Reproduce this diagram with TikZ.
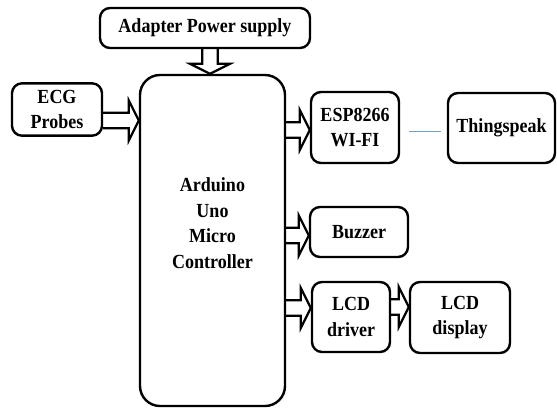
\documentclass[tikz,border=0pt]{standalone}
\usepackage{fontspec}
\setmainfont{Liberation Serif}[FakeStretch=0.9]
\usetikzlibrary{calc}
\definecolor{linkblue}{RGB}{115,160,200}
\tikzset{
  block/.style={draw, line width=1.2pt, rounded corners=5pt, align=center,
    font=\fontsize{10}{12.8}\selectfont\bfseries},
  pipe/.style={line width=1.1pt, line join=miter, to path={
    ($(\tikztotarget)!5pt!(\tikztostart)$) coordinate (pb)
    ($(\tikztostart)!3.9pt!90:(\tikztotarget)$) -- ($(pb)!3.9pt!90:(\tikztotarget)$)
    -- ($(pb)!10pt!90:(\tikztotarget)$) -- (\tikztotarget)
    -- ($(pb)!10pt!-90:(\tikztotarget)$) -- ($(pb)!3.9pt!-90:(\tikztotarget)$)
    -- ($(\tikztostart)!3.9pt!-90:(\tikztotarget)$)}},
  link/.style={draw=linkblue, line width=0.7pt},
}
\begin{document}
\begin{tikzpicture}[x=0.5pt, y=-0.5pt]
\useasboundingbox (0,0) rectangle (557,408);
% blocks
\node[block, minimum width=105pt, minimum height=20pt] (power) at (205,28) {Adapter Power supply};
\node[block, rounded corners=10pt, minimum width=72.5pt, minimum height=165.5pt] (ctrl) at (212.5,240.5) {};
\node[align=center, font=\fontsize{10}{12.8}\selectfont\bfseries] (ctrltext) at (212.5,223) {Arduino\\Uno\\Micro\\Controller};
\node[block, minimum width=45pt, minimum height=21.5pt] (ecg) at (57,109.5) {ECG\\Probes};
\node[block, minimum width=44pt, minimum height=35.5pt] (esp) at (355,127.5) {ESP8266\\WI-FI};
\node[block, minimum width=53.5pt, minimum height=35pt] (thing) at (501.5,128) {Thingspeak};
\node[block, minimum width=49pt, minimum height=25pt] (buzzer) at (359,232) {Buzzer};
\node[block, minimum width=39pt, minimum height=35pt] (lcdd) at (351,317) {LCD\\driver};
\node[block, minimum width=50pt, minimum height=35.5pt] (lcdp) at (460,317.5) {LCD\\display};
% arrows
\draw[pipe] ([xshift=2.5pt]power.south) to ([xshift=2.5pt]power.south |- ctrl.north);
\draw[pipe] ([yshift=-5.5pt]ecg.east) to ([yshift=-5.5pt]ecg.east -| ctrl.west);
\draw[pipe] ([yshift=-1.25pt]esp.west -| ctrl.east) to ([yshift=-1.25pt]esp.west);
\draw[pipe] ([yshift=-1.75pt]buzzer.west -| ctrl.east) to ([yshift=-1.75pt]buzzer.west);
\draw[pipe] ([yshift=4.5pt]lcdd.west -| ctrl.east) to ([yshift=4.5pt]lcdd.west);
\draw[pipe] ([yshift=5pt]lcdd.east) to ([yshift=5pt]lcdd.east -| lcdp.west);
\draw[link, shorten <=4.5pt, shorten >=3pt] ([yshift=-2pt]esp.east) -- ([yshift=-2pt]esp.east -| thing.west);
\end{tikzpicture}
\end{document}
